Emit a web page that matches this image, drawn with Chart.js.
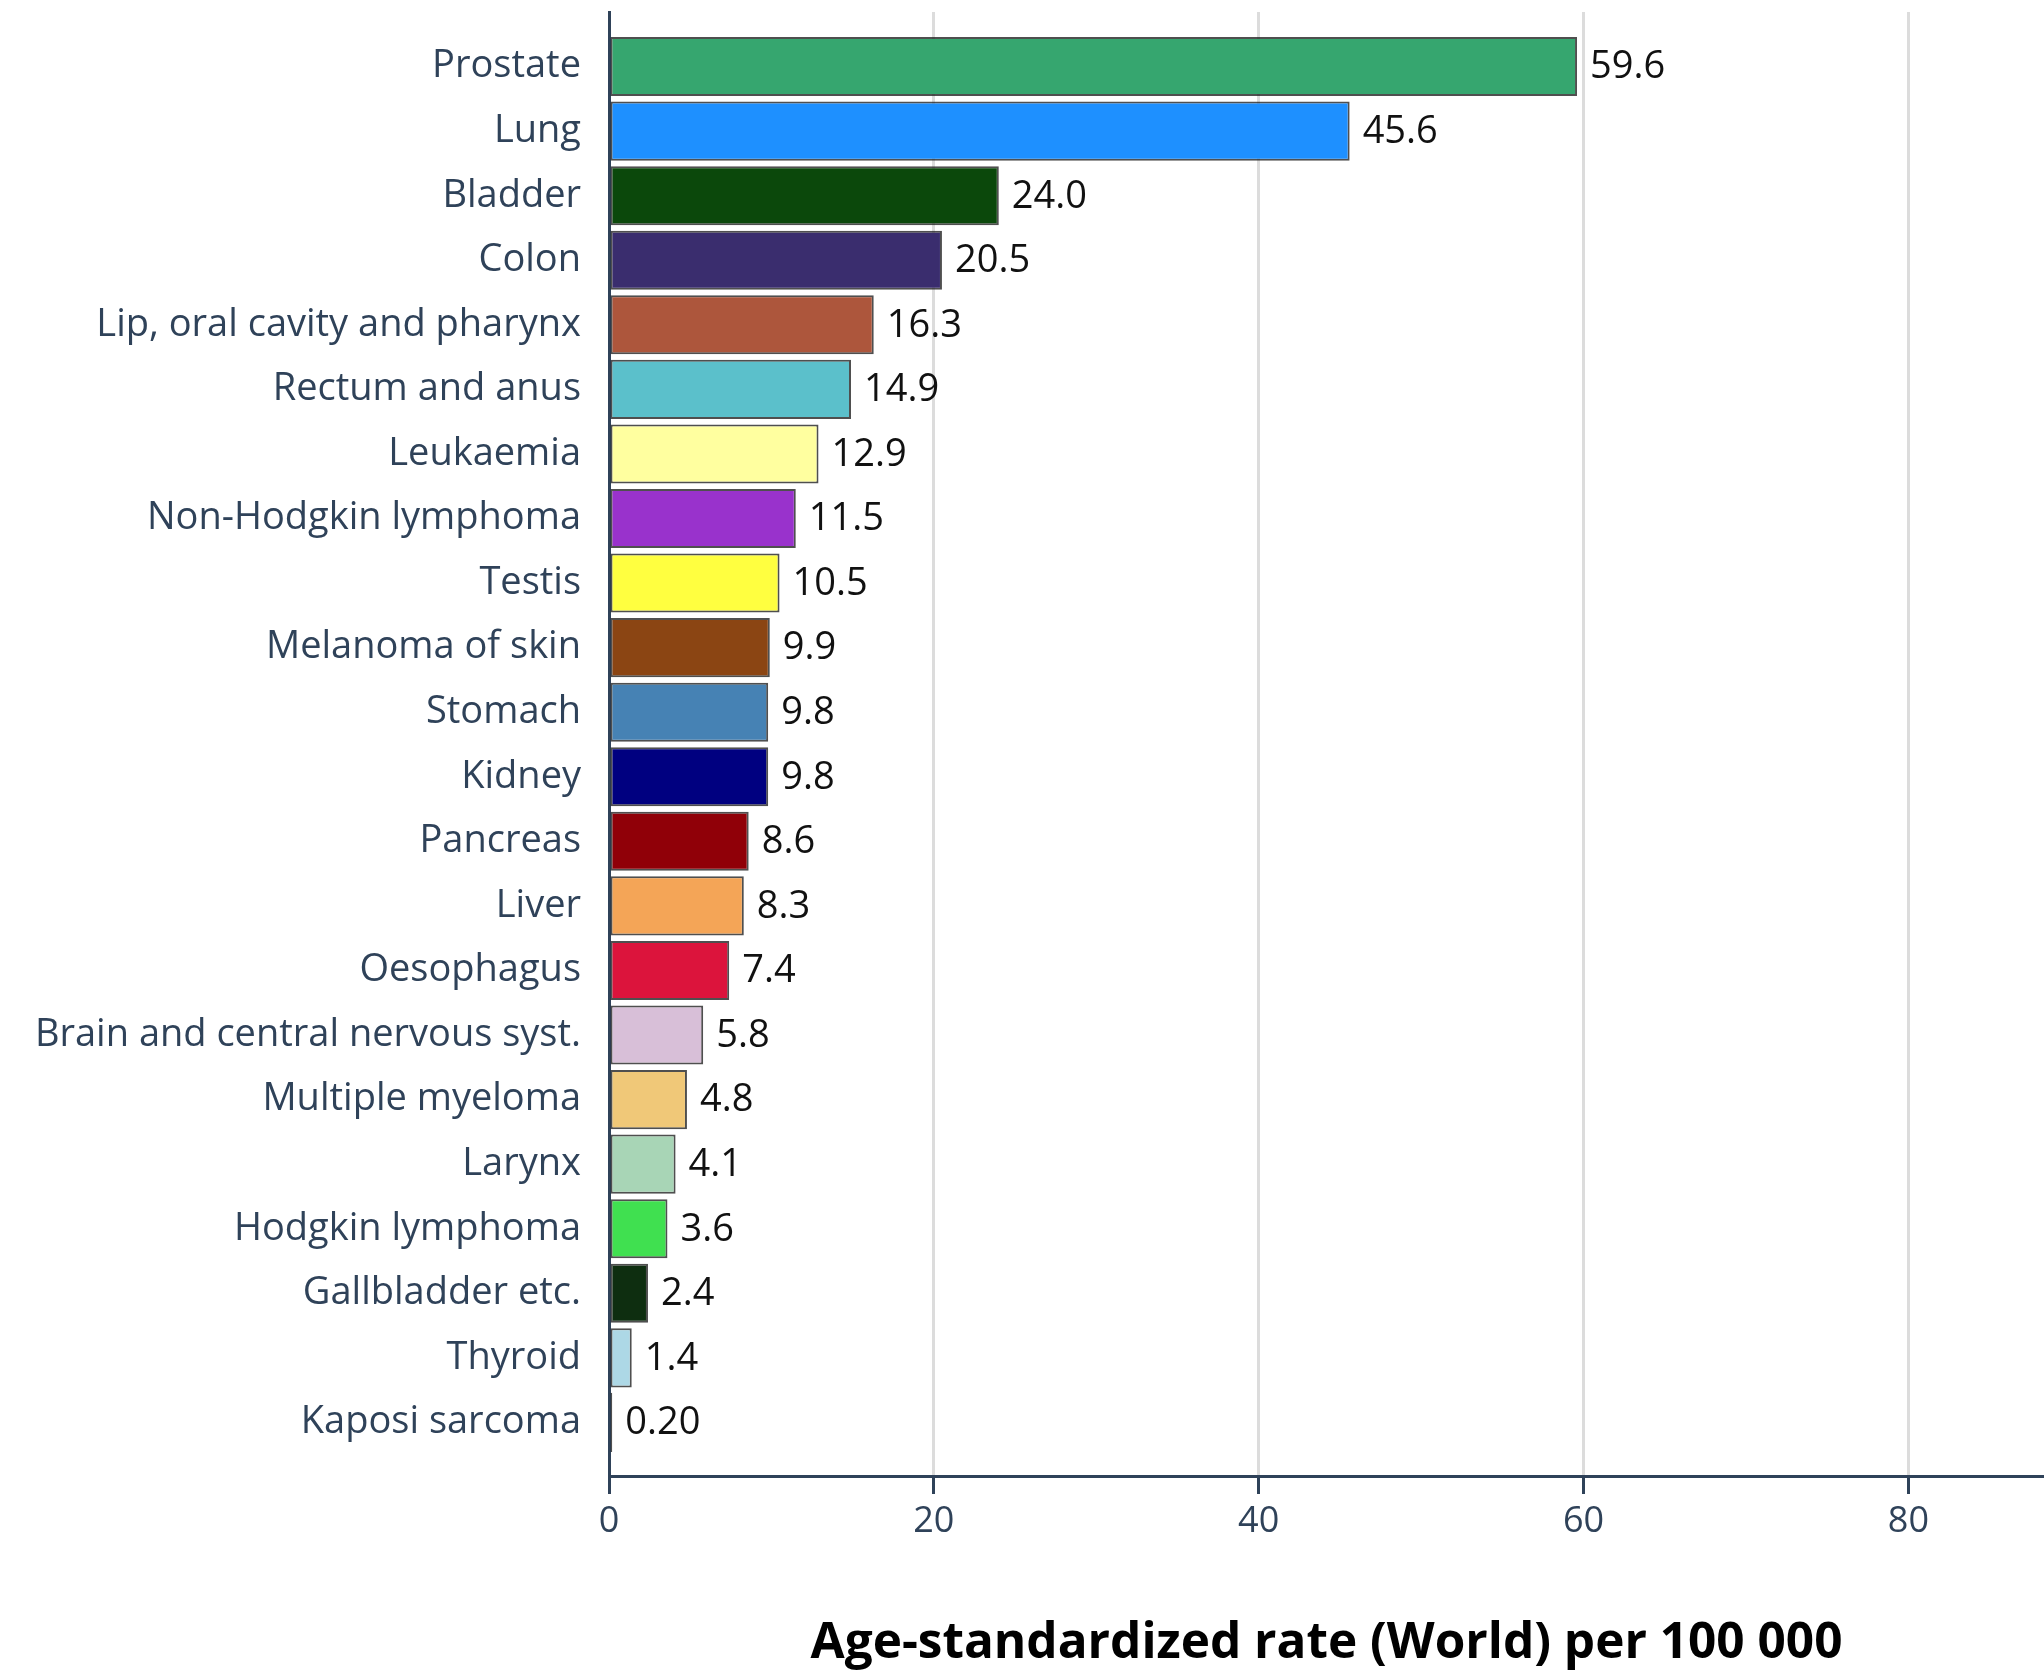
<!DOCTYPE html>
<html>
<head>
<meta charset="utf-8">
<script src="https://cdn.jsdelivr.net/npm/chart.js@4.4.1/dist/chart.umd.min.js"></script>
<style>
  html, body { margin: 0; padding: 0; background: #fff; }
  #wrap { width: 2044px; height: 1671px; position: relative; }
</style>
</head>
<body>
<div id="wrap"><canvas id="chart"></canvas></div>
<script>
// ---- data ----
const categories = [
  'Prostate', 'Lung', 'Bladder', 'Colon', 'Lip, oral cavity and pharynx',
  'Rectum and anus', 'Leukaemia', 'Non-Hodgkin lymphoma', 'Testis',
  'Melanoma of skin', 'Stomach', 'Kidney', 'Pancreas', 'Liver', 'Oesophagus',
  'Brain and central nervous syst.', 'Multiple myeloma', 'Larynx',
  'Hodgkin lymphoma', 'Gallbladder etc.', 'Thyroid', 'Kaposi sarcoma'
];
const rates = [59.6, 45.6, 24.0, 20.5, 16.3, 14.9, 12.9, 11.5, 10.5, 9.9, 9.8,
  9.8, 8.6, 8.3, 7.4, 5.8, 4.8, 4.1, 3.6, 2.4, 1.4, 0.2];
const barColors = [
  '#36a66f', '#1e90ff', '#0b480b', '#3a2d6e', '#ad563c',
  '#5bc0cb', '#ffff9f', '#9932cc', '#ffff40',
  '#8b4513', '#4682b4', '#000080', '#900008', '#f4a557', '#dc143c',
  '#d8bfd8', '#f0c878', '#a8d5b6',
  '#40e050', '#0e2e10', '#add8e6', '#4a4a6a'
];
const xTicks = [0, 20, 40, 60, 80];
const xTitle = 'Age-standardized rate (World) per 100 000';

const FONT = "'Open Sans', 'Noto Sans', sans-serif";
const AXIS = '#2f4259';

const fmt = v => v < 1 ? v.toFixed(2) : v.toFixed(1);

// value labels at the end of each bar
const valueLabels = {
  id: 'valueLabels',
  afterDatasetsDraw(chart) {
    const ctx = chart.ctx;
    const meta = chart.getDatasetMeta(0);
    ctx.save();
    ctx.font = '38px ' + FONT;
    ctx.fillStyle = '#111';
    ctx.textAlign = 'left';
    ctx.textBaseline = 'middle';
    meta.data.forEach((bar, i) => {
      ctx.fillText(fmt(rates[i]), bar.x + 13, bar.y + 1);
    });
    ctx.restore();
  }
};

new Chart(document.getElementById('chart'), {
  type: 'bar',
  data: {
    datasets: [{
      data: rates.map((v, i) => ({ x: v, y: i })),
      backgroundColor: barColors,
      borderColor: 'rgba(35,35,35,0.8)',
      borderWidth: 2,
      borderSkipped: false,
      categoryPercentage: 1,
      barPercentage: 0.915
    }]
  },
  options: {
    indexAxis: 'y',
    responsive: true,
    maintainAspectRatio: false,
    animation: false,
    layout: { padding: { top: 12, left: 0, right: 0, bottom: 0 } },
    plugins: {
      legend: { display: false },
      tooltip: { enabled: false }
    },
    scales: {
      x: {
        type: 'linear',
        min: 0,
        max: 88.35,
        afterBuildTicks: s => { s.ticks = xTicks.map(v => ({ value: v })); },
        afterFit: s => { s.height = 195; s.paddingLeft = 0; s.paddingRight = 0; },
        grid: {
          color: '#dcdcdc',
          lineWidth: 3,
          tickColor: AXIS,
          tickWidth: 3,
          tickLength: 18
        },
        border: { color: AXIS, width: 3 },
        ticks: {
          color: AXIS,
          padding: 6,
          font: { family: FONT, size: 36 }
        },
        title: {
          display: true,
          text: xTitle,
          color: '#000',
          padding: { top: 0, bottom: 2 },
          font: { family: FONT, size: 49.5, weight: 'bold', lineHeight: 1 }
        }
      },
      y: {
        type: 'linear',
        reverse: true,
        offset: false,
        min: -0.845,
        max: 21.83,
        afterBuildTicks: s => { s.ticks = categories.map((c, i) => ({ value: i })); },
        afterFit: s => { s.width = 609; s.paddingTop = 0; s.paddingBottom = 0; },
        grid: { display: false, drawTicks: false, offset: false },
        border: { color: AXIS, width: 3 },
        ticks: {
          color: AXIS,
          padding: 28,
          autoSkip: false,
          font: { family: FONT, size: 38 },
          callback: v => categories[v]
        }
      }
    }
  },
  plugins: [valueLabels]
});
</script>
</body>
</html>
